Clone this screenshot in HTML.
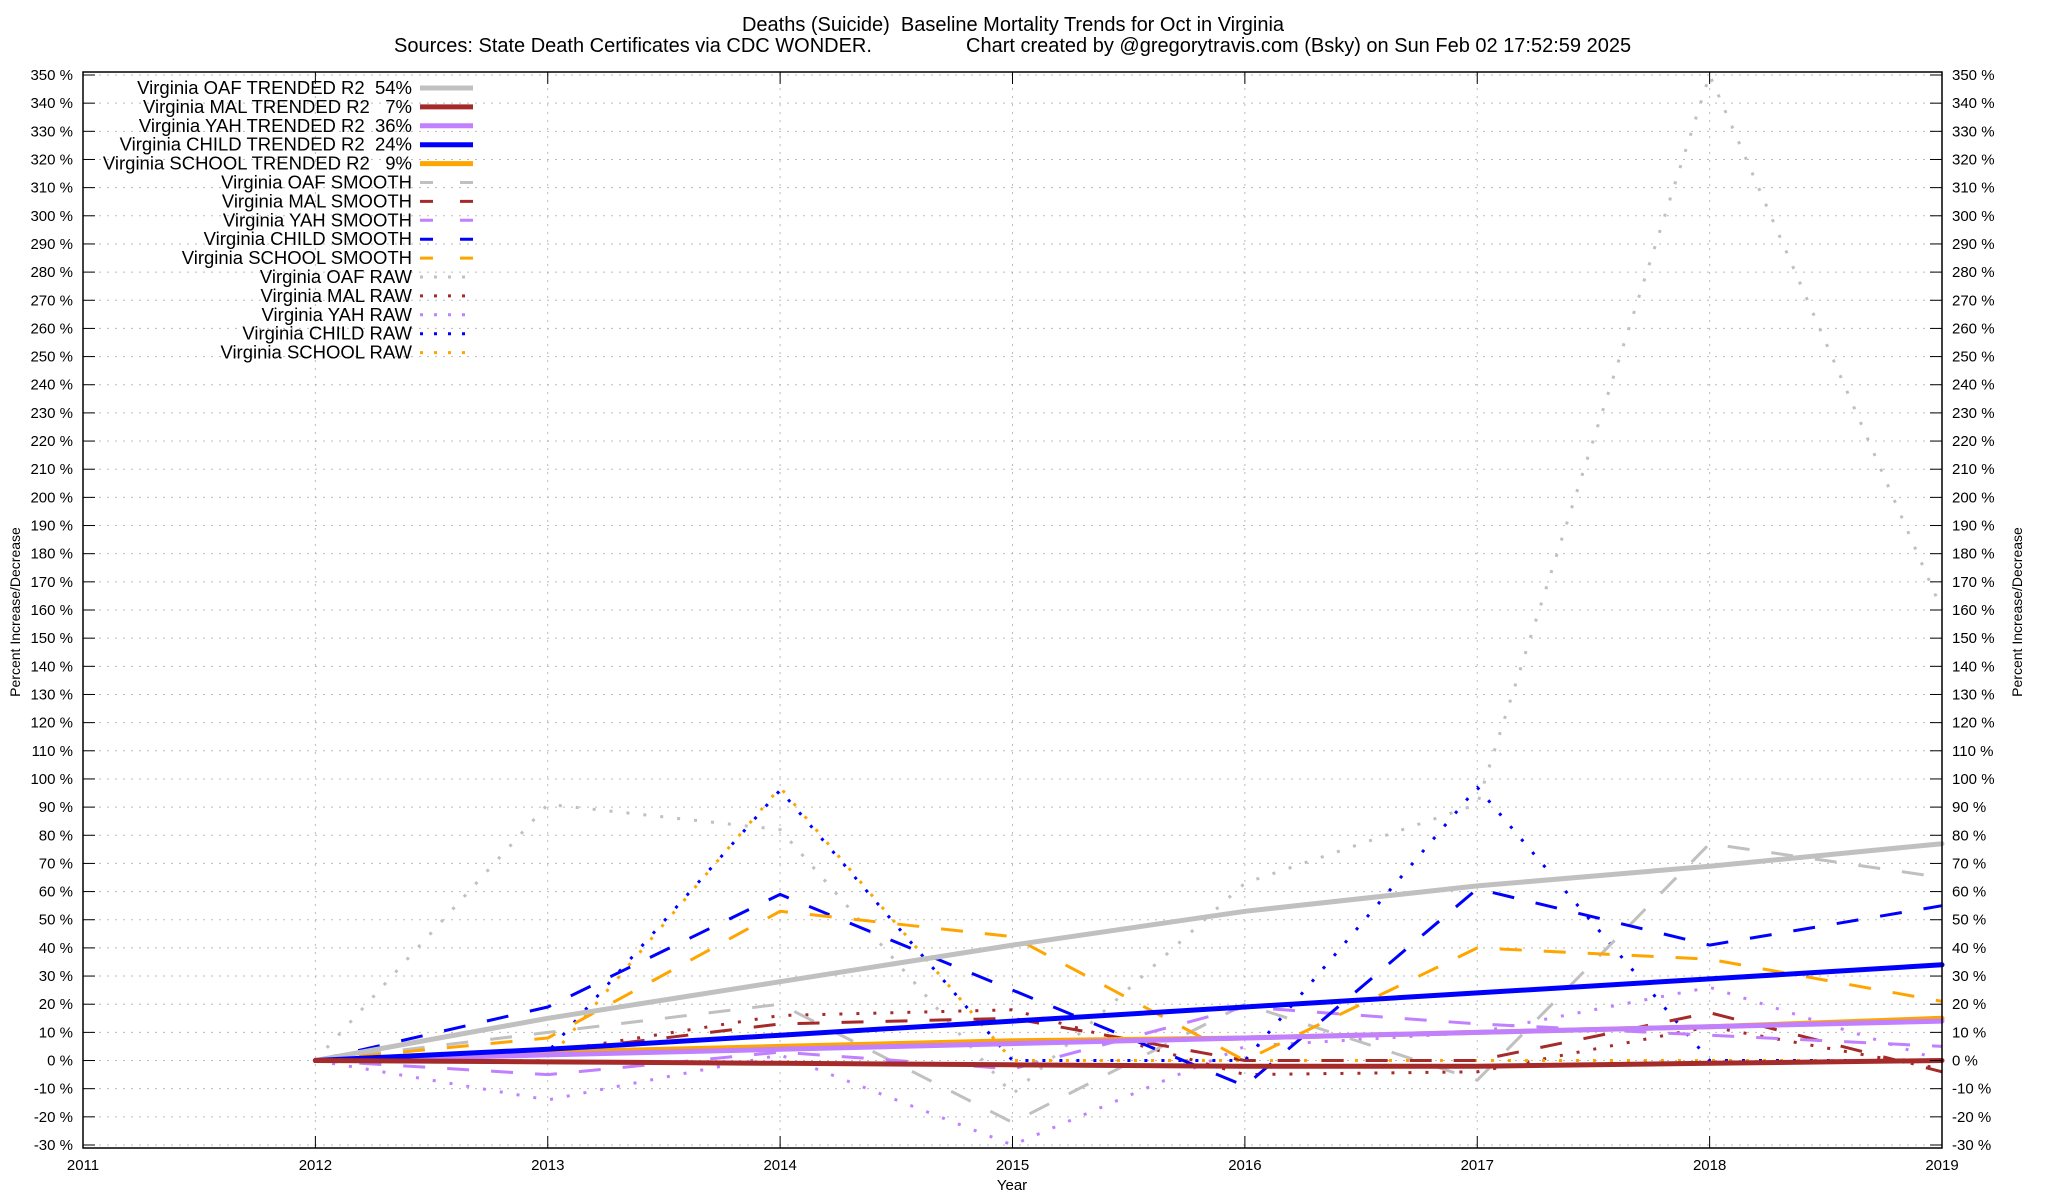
<!DOCTYPE html>
<html><head><meta charset="utf-8"><style>
html,body{margin:0;padding:0;background:#fff}
svg{display:block;font-family:"Liberation Sans",Arial,sans-serif}
svg text{white-space:pre}
</style></head><body>
<svg id="chart" width="2048" height="1200" viewBox="0 0 2048 1200">
<text x="1013" y="31" font-size="20" text-anchor="middle">Deaths (Suicide)  Baseline Mortality Trends for Oct in Virginia</text>
<text x="394" y="52" font-size="20">Sources: State Death Certificates via CDC WONDER.</text>
<text x="966" y="52" font-size="20">Chart created by @gregorytravis.com (Bsky) on Sun Feb 02 17:52:59 2025</text>
<g id="grid"></g>
<g id="series"></g>
<rect x="83" y="72" width="1859" height="1076" fill="none" stroke="#000" stroke-width="1.5"/>
<g id="axes"></g>
<g id="legend"></g>
<text transform="translate(20,612) rotate(-90)" font-size="14" text-anchor="middle">Percent Increase/Decrease</text>
<text transform="translate(2022,612) rotate(-90)" font-size="14" text-anchor="middle">Percent Increase/Decrease</text>
<text x="1012" y="1190" font-size="15" text-anchor="middle">Year</text>
</svg>
<script>
const years = [2012,2013,2014,2015,2016,2017,2018,2019];
const xTicks = [2011,2012,2013,2014,2015,2016,2017,2018,2019];
const yTicks = [-30,-20,-10,0,10,20,30,40,50,60,70,80,90,100,110,120,130,140,150,160,170,180,190,200,210,220,230,240,250,260,270,280,290,300,310,320,330,340,350];
const oafTrend = [0,15,28,41,53,62,69,77];
const malTrend = [0,-0.5,-1,-1.5,-2,-2,-1,0];
const yahTrend = [0,2,4,6,8,10,12,14];
const childTrend = [0,4,9,14,19,24,29,34];
const schoolTrend = [0,3,5,7,8,10,12,15];
const oafSmooth = [0,10,20,-22,20,-7,77,65];
const malSmooth = [0,3,13,15,0,0,17,-4];
const yahSmooth = [0,-5,3,-3,19,13,9,5];
const childSmooth = [0,19,59,25,-9,61,41,55];
const schoolSmooth = [0,8,53,44,0,40,36,21];
const oafRaw = [0,91,82,-12,63,91,350,160];
const malRaw = [0,3,16,18,-5,-4,12,-3];
const yahRaw = [0,-14,2,-30,5,10,26,0];
const childRaw = [0,3,96,0,0,97,0,0];
const schoolRaw = [0,0,97,0,0,0,0,0];
const legendLabels = ["Virginia OAF TRENDED R2  54%","Virginia MAL TRENDED R2   7%","Virginia YAH TRENDED R2  36%","Virginia CHILD TRENDED R2  24%","Virginia SCHOOL TRENDED R2   9%","Virginia OAF SMOOTH","Virginia MAL SMOOTH","Virginia YAH SMOOTH","Virginia CHILD SMOOTH","Virginia SCHOOL SMOOTH","Virginia OAF RAW","Virginia MAL RAW","Virginia YAH RAW","Virginia CHILD RAW","Virginia SCHOOL RAW"];

const NS="http://www.w3.org/2000/svg";
const X0=83,X1=1942,Y0=1145,Y1=75;
function xs(v){return X0+(v-2011)/(2019-2011)*(X1-X0);}
function ys(v){return Y0-(v+30)/(350+30)*(Y0-Y1);}
function mk(tag,attrs,parent){const e=document.createElementNS(NS,tag);for(const k in attrs)e.setAttribute(k,attrs[k]);parent.appendChild(e);return e;}
const grid=document.getElementById('grid'),axes=document.getElementById('axes'),series=document.getElementById('series'),legend=document.getElementById('legend');

yTicks.forEach(t=>{
  const y=ys(t);
  const g=mk('line',{x1:X0,x2:X1,y1:y,y2:y,stroke:'#bbb','stroke-width':1,'stroke-dasharray':'2,6'},grid);
  
  
  mk('line',{x1:X0,x2:X0+12,y1:y,y2:y,stroke:'#000','stroke-width':1},axes);
  mk('line',{x1:X1-12,x2:X1,y1:y,y2:y,stroke:'#000','stroke-width':1},axes);
  const l=mk('text',{x:X0-10,y:y+5,'font-size':15,'text-anchor':'end'},axes);l.textContent=t+' %';
  
  
  const r=mk('text',{x:X1+10,y:y+5,'font-size':15,'text-anchor':'start'},axes);r.textContent=t+' %';
  
  
});
xTicks.forEach(t=>{
  const x=xs(t);
  const g=mk('line',{x1:x,x2:x,y1:72,y2:1148,stroke:'#bbb','stroke-width':1,'stroke-dasharray':'2,6'},grid);
  
  
  mk('line',{x1:x,x2:x,y1:1148,y2:1136,stroke:'#000','stroke-width':1},axes);
  mk('line',{x1:x,x2:x,y1:72,y2:84,stroke:'#000','stroke-width':1},axes);
  const l=mk('text',{x:x,y:1170,'font-size':15,'text-anchor':'middle'},axes);l.textContent=t;
  
  
});

const colors={oaf:'#c0c0c0',mal:'#a52a2a',yah:'#c080ff',child:'#0000ff',school:'#ffa500'};
const styles={
  raw:{w:3,dash:'3,14',cap:'butt'},
  smooth:{w:3,dash:'22,22',cap:'butt'},
  trend:{w:5,dash:'',cap:'round'}
};
const seriesList=[
  ['oaf-raw',oafRaw,'oaf','raw'],['mal-raw',malRaw,'mal','raw'],['yah-raw',yahRaw,'yah','raw'],['child-raw',childRaw,'child','raw'],['school-raw',schoolRaw,'school','raw'],
  ['oaf-smooth',oafSmooth,'oaf','smooth'],['mal-smooth',malSmooth,'mal','smooth'],['yah-smooth',yahSmooth,'yah','smooth'],['child-smooth',childSmooth,'child','smooth'],['school-smooth',schoolSmooth,'school','smooth'],
  ['oaf-trend',oafTrend,'oaf','trend'],['school-trend',schoolTrend,'school','trend'],['yah-trend',yahTrend,'yah','trend'],['child-trend',childTrend,'child','trend'],['mal-trend',malTrend,'mal','trend']
];
seriesList.forEach(([name,vals,c,s])=>{
  const st=styles[s];
  const pts=vals.map((v,i)=>xs(years[i]).toFixed(1)+','+ys(v).toFixed(1)).join(' ');
  const p=mk('polyline',{points:pts,fill:'none',stroke:colors[c],'stroke-width':st.w,'stroke-linecap':st.cap,'stroke-linejoin':'round'},series);
  if(st.dash)p.setAttribute('stroke-dasharray',st.dash);
  
  
});

const legendKeys=[['oaf','trend'],['mal','trend'],['yah','trend'],['child','trend'],['school','trend'],['oaf','smooth'],['mal','smooth'],['yah','smooth'],['child','smooth'],['school','smooth'],['oaf','raw'],['mal','raw'],['yah','raw'],['child','raw'],['school','raw']];
legendLabels.forEach((lab,i)=>{
  const y=88+i*18.9;
  const t=mk('text',{x:412,y:y+6,'font-size':18.5,'text-anchor':'end'},legend);
  t.textContent=lab;
  
  
  const [c,s]=legendKeys[i];const st=styles[s];
  const l=mk('line',{x1:420,x2:473,y1:y,y2:y,stroke:colors[c],'stroke-width':st.w},legend);
  if(st.dash)l.setAttribute('stroke-dasharray',s==='smooth'?'13,27':'3,11');
  
  
});
</script>
</body></html>
